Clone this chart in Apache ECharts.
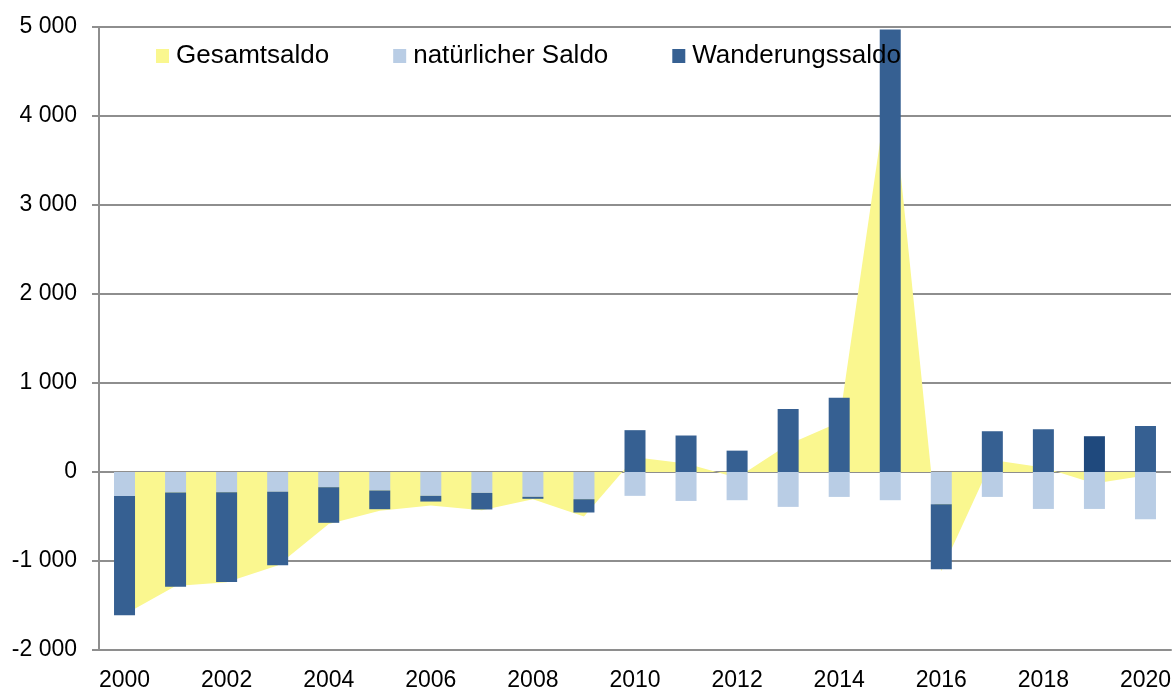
<!DOCTYPE html>
<html>
<head>
<meta charset="utf-8">
<script src="https://cdn.jsdelivr.net/npm/echarts@6/dist/echarts.min.js"></script>
<style>
  html, body { margin: 0; padding: 0; background: #fff; }
  #chart { width: 1176px; height: 689px; }
</style>
</head>
<body>
<div id="chart"></div>
<script>
// Jahre
const years = ['2000', '2001', '2002', '2003', '2004', '2005', '2006', '2007', '2008', '2009',
    '2010', '2011', '2012', '2013', '2014', '2015', '2016', '2017', '2018', '2019', '2020'];

// Saldo-Werte
const gesamtsaldo = [-1600, -1280, -1240, -1050, -585, -435, -375, -430, -305, -500,
    165, 95, -65, 310, 560, 4500, -1115, 135, 50, -130, -40];
const natuerlicherSaldo = [-270, -230, -227, -223, -171, -208, -268, -235, -279, -306,
    -268, -325, -317, -392, -280, -317, -362, -280, -415, -415, -530];
const wanderungssaldo = [-1340, -1060, -1010, -825, -400, -210, -64, -186, -22, -149,
    470, 410, 240, 707, 835, 4972, -730, 458, 481, 402, 518];

const yTicks = [-2000, 5000, 1000]; // min, max, interval

let chart = echarts.init(document.getElementById('chart'));

let migrationData = wanderungssaldo.map(function (v, i) {
    if (years[i] === '2019') {
        return { value: v, itemStyle: { color: '#1F497D' } };
    }
    return v;
});

function fmt(v) {
    let s = String(Math.abs(v)).replace(/\B(?=(\d{3})+(?!\d))/g, ' ');
    return (v < 0 ? '-' : '') + s;
}

let option = {
    backgroundColor: '#ffffff',
    textStyle: { fontFamily: 'Liberation Sans, Arial, sans-serif' },
    grid: { left: 99, right: 5, top: 27, bottom: 39, outerBoundsMode: 'none', containLabel: false },
    legend: {
        left: 151,
        top: 38,
        icon: 'rect',
        itemWidth: 13,
        itemHeight: 14,
        itemGap: 64,
        textStyle: {
            fontSize: 26,
            color: '#000',
            padding: [0, 0, 0, 2],
            fontFamily: 'Liberation Sans, Arial, sans-serif'
        },
        data: ['Gesamtsaldo', 'natürlicher Saldo', 'Wanderungssaldo']
    },
    xAxis: {
        type: 'category',
        data: years,
        boundaryGap: true,
        axisLine: { onZero: false, lineStyle: { color: '#8e8e8e', width: 2 } },
        axisTick: { show: false },
        axisLabel: {
            interval: 1,
            fontSize: 23,
            color: '#000',
            margin: 19
        },
        splitLine: { show: false }
    },
    yAxis: {
        type: 'value',
        min: yTicks[0],
        max: yTicks[1],
        interval: yTicks[2],
        axisLine: { show: true, lineStyle: { color: '#8e8e8e', width: 2 } },
        axisTick: { show: true, length: 7, lineStyle: { color: '#8e8e8e', width: 2 } },
        axisLabel: {
            fontSize: 23,
            color: '#000',
            margin: 22,
            formatter: fmt
        },
        splitLine: { lineStyle: { color: '#8e8e8e', width: 2 } }
    },
    series: [
        {
            name: 'Gesamtsaldo',
            type: 'line',
            data: gesamtsaldo,
            color: '#FAF78F',
            showSymbol: false,
            symbol: 'none',
            lineStyle: { width: 0 },
            areaStyle: { color: '#FAF78F', opacity: 1 },
            z: 1
        },
        {
            name: 'natürlicher Saldo',
            type: 'bar',
            stack: 'saldo',
            barWidth: 21,
            data: natuerlicherSaldo,
            itemStyle: { color: '#B9CDE5' },
            z: 3
        },
        {
            name: 'Wanderungssaldo',
            type: 'bar',
            stack: 'saldo',
            barWidth: 21,
            data: migrationData,
            itemStyle: { color: '#366092' },
            z: 3
        }
    ]
};
chart.setOption(option);
</script>
</body>
</html>
